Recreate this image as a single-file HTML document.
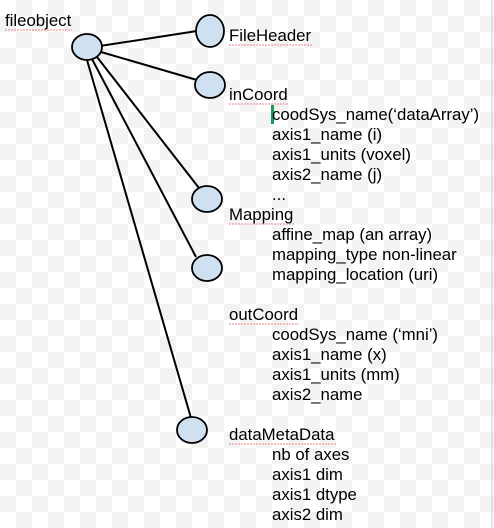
<!DOCTYPE html>
<html><head><meta charset="utf-8"><style>
html,body{margin:0;padding:0;}
body{width:494px;height:528px;overflow:hidden;background-color:#fff;
background-image:linear-gradient(45deg,#f3f3f3 25%,transparent 25%,transparent 75%,#f3f3f3 75%),linear-gradient(45deg,#f3f3f3 25%,transparent 25%,transparent 75%,#f3f3f3 75%);
background-size:32px 32px;background-position:0 0,16px 16px;}
svg{position:absolute;left:0;top:0;}
text{font-family:"Liberation Sans",sans-serif;font-size:16.8px;fill:#000;}
</style></head><body>
<svg width="494" height="528" viewBox="0 0 494 528">
<g stroke="#000" stroke-width="2" fill="none">
<line x1="100" y1="46" x2="197" y2="31"/>
<line x1="101" y1="52" x2="197" y2="80"/>
<line x1="97" y1="57" x2="199" y2="188"/>
<line x1="92" y1="59" x2="196" y2="257"/>
<line x1="87" y1="60" x2="191" y2="418"/>
</g>
<g fill="#cfe0f1" stroke="#000" stroke-width="1.8">
<ellipse cx="87" cy="47" rx="15" ry="13"/>
<ellipse cx="210" cy="31" rx="14" ry="16"/>
<ellipse cx="210" cy="85" rx="15" ry="13"/>
<ellipse cx="207" cy="199" rx="15" ry="13"/>
<ellipse cx="207" cy="268" rx="15" ry="13"/>
<ellipse cx="192" cy="430" rx="15" ry="13"/>
</g>
<rect x="271" y="105" width="3" height="19" fill="#1a9a5a"/>
<text x="5" y="26">fileobject</text>
<g>
<text x="229" y="41">FileHeader</text>
<text x="229" y="100">inCoord</text>
<text x="272" y="120">coodSys_name(‘dataArray’)</text>
<text x="272" y="140">axis1_name (i)</text>
<text x="272" y="160">axis1_units (voxel)</text>
<text x="272" y="180">axis2_name (j)</text>
<text x="272" y="200">...</text>
<text x="229" y="220">Mapping</text>
<text x="272" y="240">affine_map (an array)</text>
<text x="272" y="260">mapping_type non-linear</text>
<text x="272" y="280">mapping_location (uri)</text>
<text x="229" y="320">outCoord</text>
<text x="272" y="340">coodSys_name (‘mni’)</text>
<text x="272" y="360">axis1_name (x)</text>
<text x="272" y="380">axis1_units (mm)</text>
<text x="272" y="400">axis2_name</text>
<text x="229" y="440">dataMetaData</text>
<text x="272" y="460">nb of axes</text>
<text x="272" y="480">axis1 dim</text>
<text x="272" y="500">axis1 dtype</text>
<text x="272" y="520">axis2 dim</text>
</g>
<g stroke="#e06060" stroke-width="0.8" stroke-dasharray="2 1" fill="none">
<line x1="5" y1="30" x2="72" y2="30"/>
<line x1="229" y1="45" x2="312" y2="45"/>
<line x1="229" y1="104" x2="289" y2="104"/>
<line x1="229" y1="224" x2="295" y2="224"/>
<line x1="229" y1="324" x2="299" y2="324"/>
<line x1="229" y1="444" x2="336" y2="444"/>
</g>
<line x1="492" y1="0" x2="492" y2="528" stroke="#ccc" stroke-width="1"/>
</svg>
</body></html>
